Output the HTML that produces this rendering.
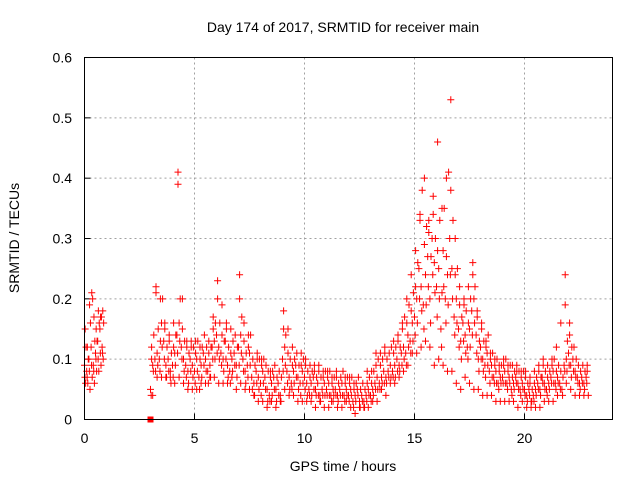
<!DOCTYPE html>
<html><head><meta charset="utf-8"><style>
body{margin:0;background:#fff}
svg{display:block;font-family:"Liberation Sans",sans-serif}
</style></head><body>
<svg id="chart" width="640" height="480" viewBox="0 0 640 480">
<rect width="640" height="480" fill="#fff"/>
<text x="343" y="32" font-size="14" text-anchor="middle">Day 174 of 2017, SRMTID for receiver main</text>
<text transform="translate(19,238) rotate(-90)" font-size="14" text-anchor="middle">SRMTID / TECUs</text>
<text x="343" y="471" font-size="14" text-anchor="middle">GPS time / hours</text>
<g id="grid"></g>
<g id="ticks"></g>
<g id="marks"></g>
<rect x="84.5" y="57.5" width="528" height="362" fill="none" stroke="#000" stroke-width="1"/>
</svg>
<script>
const xTicks=[0,5,10,15,20];
const yTicks=[0,0.1,0.2,0.3,0.4,0.5,0.6];
const yTickLabels=["0","0.1","0.2","0.3","0.4","0.5","0.6"];
const segAStart=0, segBStart=3.0;
const segAMid=[0.09,0.08,0.1,0.12,0.09,0.11,0.13,0.15,0.12];
const segAHi=[0.15,0.12,0.19,0.21,0.17,0.15,0.18,0.17,0.18];
const segALo=[0.06,0.06,0.05,0.07,0.06,0.08,0.08,0.09,0.1];
const segAUp=[0.12,0.1,0.16,0.2,0.13,0.13,0.16,0.17,0.16];
const segADn=[0.07,0.07,0.08,0.09,0.08,0.1,0.1,0.11,0.11];
const segBMid=[0.05,0.09,0.1,0.11,0.1,0.16,0.13,0.09,0.1,0.08,
0.09,0.11,0.14,0.16,0.12,0.1,0.09,0.08,0.1,0.09,
0.08,0.1,0.07,0.09,0.11,0.1,0.08,0.09,0.12,0.13,
0.14,0.12,0.11,0.1,0.13,0.09,0.08,0.1,0.11,0.09,
0.12,0.14,0.1,0.08,0.09,0.11,0.07,0.06,0.08,0.07,
0.06,0.08,0.07,0.05,0.04,0.06,0.07,0.05,0.06,0.04,
0.1,0.12,0.08,0.07,0.06,0.08,0.09,0.07,0.06,0.08,
0.07,0.06,0.05,0.06,0.07,0.05,0.06,0.04,0.05,0.06,
0.05,0.06,0.04,0.05,0.05,0.04,0.05,0.06,0.04,0.05,
0.04,0.05,0.03,0.04,0.05,0.03,0.04,0.03,0.04,0.05,
0.04,0.05,0.06,0.07,0.06,0.07,0.08,0.07,0.08,0.09,
0.08,0.09,0.1,0.09,0.11,0.12,0.11,0.14,0.13,0.16,
0.17,0.2,0.25,0.22,0.19,0.24,0.27,0.2,0.3,0.26,
0.22,0.25,0.15,0.28,0.2,0.24,0.3,0.25,0.17,0.2,
0.15,0.13,0.16,0.14,0.12,0.15,0.18,0.2,0.14,0.1,
0.12,0.1,0.09,0.11,0.08,0.09,0.07,0.08,0.06,0.07,
0.07,0.08,0.06,0.07,0.05,0.06,0.07,0.06,0.05,0.06,
0.05,0.04,0.05,0.03,0.04,0.05,0.06,0.05,0.07,0.06,
0.05,0.06,0.07,0.08,0.06,0.07,0.06,0.05,0.09,0.1,
0.11,0.09,0.1,0.08,0.07,0.06,0.07,0.06,0.07];
const segBUp=[0.1,0.14,0.21,0.15,0.13,0.2,0.16,0.12,0.13,0.11,
0.12,0.14,0.39,0.2,0.15,0.13,0.12,0.11,0.13,0.12,
0.11,0.13,0.1,0.12,0.14,0.12,0.11,0.12,0.15,0.16,
0.2,0.16,0.14,0.13,0.15,0.12,0.11,0.13,0.14,0.12,
0.2,0.17,0.13,0.11,0.12,0.14,0.1,0.09,0.11,0.1,
0.09,0.1,0.09,0.08,0.07,0.08,0.09,0.07,0.08,0.07,
0.15,0.14,0.11,0.1,0.09,0.1,0.11,0.09,0.09,0.1,
0.09,0.08,0.07,0.08,0.09,0.07,0.08,0.07,0.07,0.08,
0.07,0.08,0.06,0.07,0.07,0.06,0.07,0.08,0.06,0.07,
0.06,0.07,0.05,0.06,0.07,0.05,0.06,0.05,0.06,0.07,
0.06,0.08,0.09,0.1,0.09,0.1,0.11,0.1,0.11,0.12,
0.11,0.12,0.13,0.12,0.15,0.17,0.16,0.19,0.18,0.21,
0.22,0.26,0.33,0.38,0.29,0.32,0.31,0.27,0.34,0.3,
0.28,0.33,0.21,0.35,0.27,0.41,0.38,0.33,0.24,0.25,
0.19,0.17,0.2,0.18,0.16,0.2,0.24,0.22,0.17,0.13,
0.15,0.13,0.12,0.14,0.1,0.11,0.09,0.1,0.08,0.09,
0.09,0.1,0.08,0.09,0.07,0.08,0.09,0.08,0.07,0.08,
0.07,0.06,0.07,0.05,0.06,0.07,0.08,0.07,0.09,0.08,
0.07,0.08,0.09,0.1,0.08,0.09,0.08,0.07,0.19,0.13,
0.14,0.12,0.12,0.1,0.09,0.08,0.09,0.08,0.09];
const segBDn=[0.04,0.08,0.08,0.09,0.08,0.12,0.1,0.07,0.08,0.06,
0.07,0.09,0.11,0.13,0.1,0.08,0.07,0.06,0.08,0.07,
0.06,0.08,0.05,0.07,0.09,0.08,0.06,0.07,0.1,0.1,
0.11,0.1,0.09,0.08,0.1,0.07,0.06,0.08,0.09,0.07,
0.09,0.11,0.08,0.06,0.07,0.09,0.05,0.04,0.06,0.05,
0.04,0.06,0.05,0.03,0.03,0.04,0.05,0.03,0.04,0.03,
0.08,0.09,0.06,0.05,0.05,0.06,0.07,0.05,0.04,0.06,
0.05,0.04,0.04,0.04,0.05,0.04,0.04,0.03,0.04,0.04,
0.04,0.04,0.03,0.04,0.04,0.03,0.04,0.04,0.03,0.04,
0.03,0.04,0.02,0.03,0.04,0.02,0.03,0.02,0.03,0.04,
0.03,0.04,0.05,0.05,0.05,0.06,0.06,0.06,0.07,0.07,
0.07,0.07,0.08,0.08,0.09,0.1,0.09,0.12,0.11,0.13,
0.14,0.16,0.2,0.18,0.15,0.19,0.22,0.16,0.24,0.21,
0.17,0.2,0.12,0.22,0.16,0.19,0.24,0.2,0.14,0.16,
0.12,0.1,0.13,0.11,0.1,0.12,0.14,0.16,0.11,0.08,
0.1,0.08,0.07,0.09,0.06,0.07,0.06,0.06,0.05,0.06,
0.06,0.06,0.05,0.06,0.04,0.05,0.06,0.05,0.04,0.05,
0.04,0.03,0.04,0.03,0.03,0.04,0.05,0.04,0.06,0.05,
0.04,0.05,0.06,0.06,0.05,0.06,0.05,0.04,0.08,0.08,
0.09,0.07,0.08,0.07,0.06,0.05,0.06,0.05,0.06];
const segBHi=[0.12,0.22,0.2,0.15,0.14, 0.16,0.41,0.2,0.13,0.12, 0.13,0.12,0.14,0.13,0.17,
0.23,0.19,0.16,0.15,0.14, 0.24,0.16,0.14,0.1,0.1, 0.1,0.09,0.08,0.09,0.08,
0.18,0.15,0.12,0.11,0.11, 0.1,0.09,0.08,0.09,0.08, 0.08,0.07,0.08,0.07,0.07,
0.07,0.06,0.07,0.06,0.08, 0.08,0.11,0.11,0.12,0.11, 0.13,0.14,0.16,0.2,0.24,
0.28,0.34,0.4,0.33,0.37, 0.46,0.35,0.4,0.53,0.3, 0.22,0.19,0.22,0.26,0.18,
0.16,0.13,0.11,0.1,0.09, 0.1,0.09,0.09,0.08,0.08, 0.08,0.06,0.08,0.09,0.1,
0.09,0.1,0.12,0.16,0.24, 0.16,0.12,0.09,0.09,0.08];
const segBLo=[0.04,0.07,0.07,0.07,0.07, 0.06,0.07,0.06,0.05,0.05, 0.05,0.06,0.06,0.07,0.07,
0.06,0.06,0.06,0.07,0.05, 0.06,0.05,0.05,0.04,0.03, 0.03,0.02,0.03,0.02,0.03,
0.05,0.04,0.04,0.03,0.03, 0.03,0.03,0.02,0.03,0.02, 0.02,0.03,0.02,0.02,0.03,
0.02,0.01,0.02,0.02,0.02, 0.03,0.03,0.05,0.04,0.06, 0.06,0.07,0.08,0.09,0.11,
0.11,0.12,0.13,0.12,0.09, 0.1,0.09,0.08,0.08,0.06, 0.05,0.07,0.06,0.05,0.05,
0.04,0.04,0.04,0.03,0.03, 0.03,0.03,0.03,0.02,0.03, 0.02,0.02,0.02,0.02,0.03,
0.03,0.03,0.04,0.05,0.06, 0.05,0.04,0.04,0.04,0.04];
const squareT=[3.0], squareV=[0];

const X=t=>84.5+t*22, Y=v=>419.5-v*603.3;
const NS="http://www.w3.org/2000/svg";
const grid=document.getElementById('grid'), ticks=document.getElementById('ticks'), marks=document.getElementById('marks');
function mk(tag,attrs,parent){const e=document.createElementNS(NS,tag);for(const k in attrs)e.setAttribute(k,attrs[k]);parent.appendChild(e);return e;}
xTicks.forEach(t=>{
  if(t>0){const g=mk('line',{x1:X(t),x2:X(t),y1:57.5,y2:419.5,stroke:'#a0a0a0','stroke-dasharray':'2,3'},grid);
  
  }
  const l=mk('line',{x1:X(t),x2:X(t),y1:419.5,y2:413.5,stroke:'#000'},ticks);
  
  
  const tx=mk('text',{x:X(t),y:443,'font-size':14,'text-anchor':'middle'},ticks);tx.textContent=t;
  
  
});
yTicks.forEach((v,i)=>{
  if(v>0&&v<0.6){const g=mk('line',{x1:84.5,x2:612.5,y1:Y(v),y2:Y(v),stroke:'#a0a0a0','stroke-dasharray':'2,3'},grid);
  
  }
  const l=mk('line',{x1:84.5,x2:90.5,y1:Y(v),y2:Y(v),stroke:'#000'},ticks);
  
  
  const tx=mk('text',{x:72,y:Y(v)+5,'font-size':14,'text-anchor':'end'},ticks);tx.textContent=yTickLabels[i];
  
  
});
let d='';
function plus(t,v){const x=X(t),y=Y(v);d+=`M${x-3.5} ${y}h7M${x} ${y-3.5}v7`;}
segAMid.forEach((v,i)=>plus(segAStart+i*0.1,v));
segAHi.forEach((v,i)=>plus(segAStart+i*0.1+0.03,v));
segALo.forEach((v,i)=>plus(segAStart+i*0.1+0.05,v));
segAUp.forEach((v,i)=>plus(segAStart+i*0.1+0.07,v));
segADn.forEach((v,i)=>plus(segAStart+i*0.1+0.02,v));
segBMid.forEach((v,i)=>plus(segBStart+i*0.1,v));
segBUp.forEach((v,i)=>plus(segBStart+i*0.1+0.05,v));
segBDn.forEach((v,i)=>plus(segBStart+i*0.1+0.03,v));
segBHi.forEach((v,i)=>plus(segBStart+i*0.2+0.05,v));
segBLo.forEach((v,i)=>plus(segBStart+i*0.2+0.1,v));
const p=mk('path',{d:d,stroke:'#ff0000','stroke-width':1,fill:'none'},marks);


squareT.forEach((t,i)=>{const r=mk('rect',{x:X(t)-3,y:Y(squareV[i])-3,width:6,height:6,fill:'#ff0000'},marks);

});
</script>
</body></html>
